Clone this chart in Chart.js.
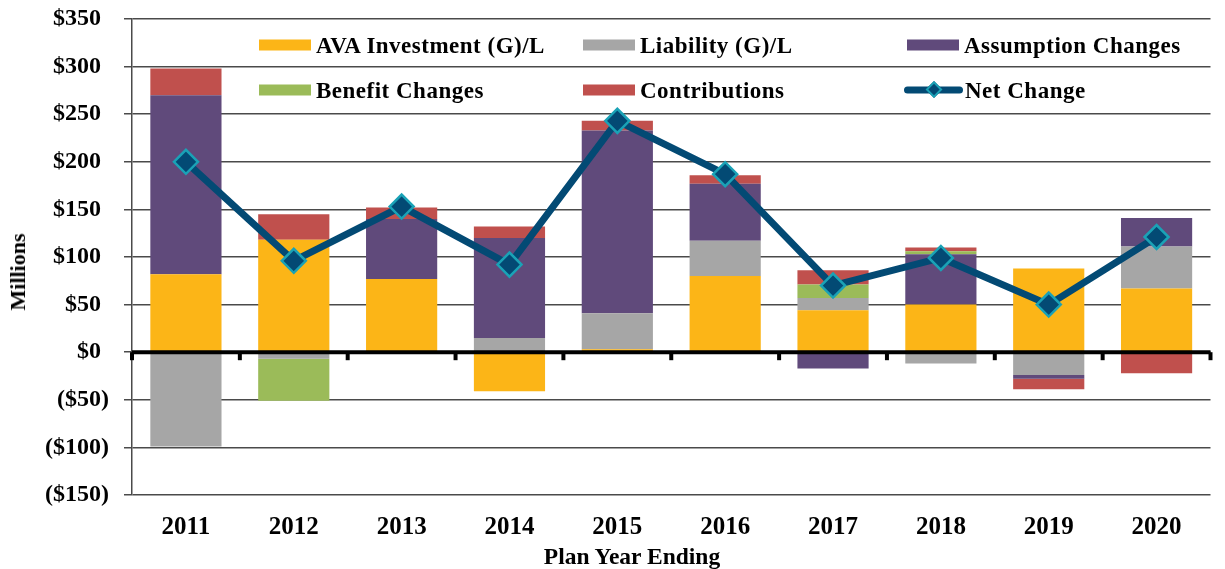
<!DOCTYPE html>
<html>
<head>
<meta charset="utf-8">
<script src="https://cdn.jsdelivr.net/npm/chart.js@4/dist/chart.umd.min.js"></script>
<style>
  body { margin: 0; background: #fff; }
  #wrap { position: relative; width: 1225px; height: 569px; overflow: hidden; }
  #chart { position: absolute; left: 0; top: 0; }
  .lg { position: absolute; display: flex; align-items: center; transform: translateY(-50%);
        font: bold 23px "Liberation Serif", "Times New Roman", serif; letter-spacing: 0.5px;
        line-height: 1; color: #000; white-space: nowrap; }
  .sw { display: inline-block; width: 52px; height: 11px; margin-right: 5px; }
  .netsw { position: relative; display: inline-block; width: 59px; height: 7px; border-radius: 4px;
           background: #034a74; margin-right: 2px; }
  .netsw i { position: absolute; left: 24px; top: -3px; width: 8px; height: 8px; background: #034a74;
             border: 2px solid #1aa2b6; transform: rotate(45deg); }
  .axt { position: absolute; font: bold 22px "Liberation Serif", "Times New Roman", serif; line-height: 1;
         color: #000; white-space: nowrap; }
</style>
</head>
<body>
<div id="wrap">
  <canvas id="chart" width="1225" height="569"></canvas>
  <div id="legend"></div>
  <div class="axt" style="left:18px; top:272px; transform: translate(-50%, -50%) rotate(-90deg);">Millions</div>
  <div class="axt" style="left:632px; top:557px; font-size:23.5px; transform: translate(-50%, -50%);">Plan Year Ending</div>
</div>
<script>
// Chart data
const years = ["2011", "2012", "2013", "2014", "2015", "2016", "2017", "2018", "2019", "2020"];
const avaInvestment = [82, 118, 77, -41, 3, 80, 44, 50, 88, 67];
const liability = [-99, -7, 0, 15, 38, 37, 13, -12, -24, 44];
const assumptionChanges = [188, 0, 63, 105, 192, 60, -17, 53, -4, 30];
const benefitChanges = [0, -44, 0, 0, 0, 0, 14, 3, 0, 0];
const contributions = [28, 27, 12, 12, 10, 9, 15, 4, -11, -22];
const netChange = [200, 96, 153, 92, 243, 187, 70, 99, 50, 121];
const yTickValues = [-150, -100, -50, 0, 50, 100, 150, 200, 250, 300, 350];

const serif = "'Liberation Serif', 'Times New Roman', serif";

function barSet(label, data, color) {
  return {
    type: "bar",
    label: label,
    data: data,
    backgroundColor: color,
    stack: "parts",
    order: 1,
    categoryPercentage: 0.66,
    barPercentage: 1,
  };
}

// thick black axis at zero with small category ticks, drawn over the bars
const zeroAxisPlugin = {
  id: "zeroAxis",
  beforeDatasetDraw(chart, args) {
    if (args.meta.type !== "line") return;
    const { ctx, chartArea } = chart;
    const xs = chart.scales.x;
    const y0 = chart.scales.y.getPixelForValue(0);
    ctx.save();
    ctx.strokeStyle = "#000";
    ctx.lineWidth = 4;
    ctx.beginPath();
    ctx.moveTo(chartArea.left, y0);
    ctx.lineTo(chartArea.right, y0);
    ctx.stroke();
    for (let i = 0; i <= years.length; i++) {
      const px = xs.getPixelForValue(i - 0.5);
      ctx.beginPath();
      ctx.moveTo(px, y0);
      ctx.lineTo(px, y0 + 8);
      ctx.stroke();
    }
    ctx.restore();
  },
};

document.addEventListener("DOMContentLoaded", function () {
  const ctx = document.getElementById("chart").getContext("2d");

  const data = {
    labels: years,
    datasets: [
      barSet("AVA Investment (G)/L", avaInvestment, "#fcb517"),
      barSet("Liability (G)/L", liability, "#a6a6a6"),
      barSet("Assumption Changes", assumptionChanges, "#604a7b"),
      barSet("Benefit Changes", benefitChanges, "#9bbb59"),
      barSet("Contributions", contributions, "#c0504d"),
      {
        type: "line",
        label: "Net Change",
        data: netChange,
        stack: "net",
        order: 0,
        borderColor: "#034a74",
        borderWidth: 7,
        tension: 0,
        pointStyle: "rectRot",
        pointRadius: 12,
        pointHoverRadius: 12,
        pointBackgroundColor: "#034a74",
        pointBorderColor: "#1aa2b6",
        pointBorderWidth: 2.5,
      },
    ],
  };

  const options = {
    responsive: false,
    animation: false,
    devicePixelRatio: 1,
    layout: { padding: { top: 19, right: 0, bottom: 0, left: 0 } },
    plugins: {
      legend: { display: false },
      tooltip: { enabled: false },
    },
    scales: {
      x: {
        stacked: true,
        grid: { display: false, drawTicks: false },
        border: { display: false },
        ticks: {
          color: "#000",
          padding: 18,
          font: { family: serif, size: 25, weight: "bold" },
        },
        afterFit: function (scale) {
          scale.height = 74;
        },
      },
      y: {
        stacked: true,
        min: -150,
        max: 350,
        afterBuildTicks: function (scale) {
          scale.ticks = yTickValues.map((v) => ({ value: v }));
        },
        grid: {
          color: "#4a4a4a",
          lineWidth: 1.5,
          tickLength: 8,
        },
        border: { display: true, color: "#4a4a4a", width: 1.5 },
        ticks: {
          color: "#000",
          padding: 15,
          font: { family: serif, size: 24, weight: "bold" },
          callback: function (value) {
            if (value < 0) return "($" + Math.abs(value) + ")";
            return "$" + value + "\u2004";
          },
        },
        afterFit: function (scale) {
          scale.width = 132;
          scale.paddingTop = 0;
          scale.paddingBottom = 0;
        },
      },
    },
  };

  const chart = new Chart(ctx, {
    data: data,
    options: options,
    plugins: [zeroAxisPlugin],
  });

  buildLegend(chart);
});

// legend sits inside the plot area in two rows of three
function buildLegend(chart) {
  const spots = [
    [259, 45], [583, 45], [907, 45],
    [259, 90], [583, 90], [904, 90],
  ];
  const box = document.getElementById("legend");
  chart.data.datasets.forEach((ds, i) => {
    const item = document.createElement("div");
    item.className = "lg";
    item.style.left = spots[i][0] + "px";
    item.style.top = spots[i][1] + "px";
    if (ds.type === "line") {
      item.innerHTML = '<span class="netsw"><i></i></span>';
    } else {
      item.innerHTML = '<span class="sw" style="background:' + ds.backgroundColor + '"></span>';
    }
    item.appendChild(document.createTextNode(ds.label));
    box.appendChild(item);
  });
}
</script>
</body>
</html>
